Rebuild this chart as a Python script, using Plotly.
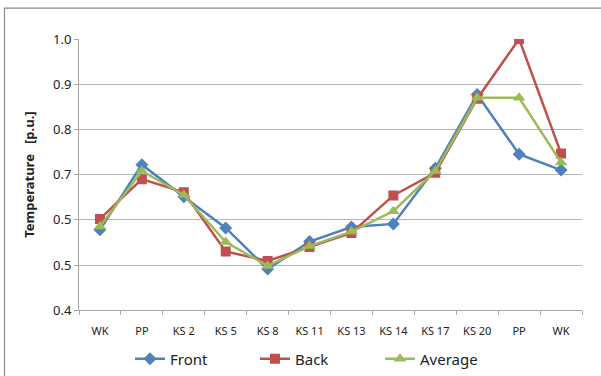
import plotly.graph_objects as go

categories = ["WK", "PP", "KS 2", "KS 5", "KS 8", "KS 11", "KS 13", "KS 14", "KS 17", "KS 20", "PP", "WK"]
front = [0.578, 0.722, 0.651, 0.582, 0.491, 0.552, 0.584, 0.591, 0.714, 0.877, 0.745, 0.710]
back = [0.602, 0.690, 0.661, 0.530, 0.509, 0.540, 0.571, 0.654, 0.704, 0.868, 1.000, 0.747]
average = [0.585, 0.708, 0.655, 0.551, 0.498, 0.542, 0.574, 0.619, 0.708, 0.870, 0.870, 0.727]
y_tickvals = [0.4, 0.5, 0.6, 0.7, 0.8, 0.9, 1.0]
y_ticktext = ["0.4", "0.5", "0.5", "0.7", "0.8", "0.9", "1.0"]

FONT = "Noto Sans"
W, H = 601, 376
ML, MR, MT, MB = 79, 19, 39, 0
PLOT_BOTTOM_PX = 316
area_h = H - MT - MB
area_w = W - ML - MR
dom_bottom = (H - MB - PLOT_BOTTOM_PX) / area_h

xs = list(range(len(categories)))

fig = go.Figure()
series = [
    ("Front", front, "#4F81BD", "diamond", 10),
    ("Back", back, "#C0504D", "square", 10),
    ("Average", average, "#9BBB59", "triangle-up", 11),
]
for name, vals, col, sym, sz in series:
    fig.add_trace(go.Scatter(
        x=xs, y=vals, name=name, mode="lines+markers",
        line=dict(color=col, width=2.5),
        marker=dict(symbol=sym, size=sz, color=col),
    ))

def px_x(p):
    return (p - ML) / area_w

def px_y(p):
    return (H - MB - p) / area_h

fig.update_layout(
    width=W, height=H,
    margin=dict(l=ML, r=MR, t=MT, b=MB),
    paper_bgcolor="white", plot_bgcolor="white",
    font=dict(family=FONT, color="#222"),
    showlegend=True,
    legend=dict(orientation="h", x=px_x(130), xanchor="left", y=px_y(349), yanchor="top",
                font=dict(size=15, family=FONT), entrywidth=80, entrywidthmode="pixels",
                tracegroupgap=0, bgcolor="rgba(0,0,0,0)", borderwidth=0),
    shapes=[dict(type="rect", xref="paper", yref="paper",
                 x0=px_x(4.5), x1=px_x(640), y0=px_y(420), y1=px_y(7.5),
                 line=dict(color="#8a8a8a", width=1.2), fillcolor="rgba(0,0,0,0)", layer="below")],
)
fig.update_xaxes(
    range=[-0.5, len(categories) - 0.5], automargin=False,
    tickmode="array", tickvals=xs, ticktext=categories,
    ticks="", showgrid=False, zeroline=False,
    showline=True, linecolor="#a6a6a6", linewidth=1,
    ticklabelstandoff=11,
    tickfont=dict(size=11, family=FONT, color="#222"),
    minor=dict(tickvals=[i - 0.5 for i in range(len(categories) + 1)],
               ticks="outside", ticklen=4, tickcolor="#a6a6a6", showgrid=False),
)
fig.update_yaxes(
    range=[0.4, 1.0], domain=[dom_bottom, 1.0], automargin=False,
    tickmode="array", tickvals=y_tickvals, ticktext=y_ticktext,
    ticks="outside", ticklen=4, tickcolor="#a6a6a6",
    showgrid=True, gridcolor="#b5b5b5", gridwidth=1, zeroline=False,
    showline=True, linecolor="#a6a6a6", linewidth=1,
    tickfont=dict(size=13, family=FONT, color="#222"),
    title=dict(text="<b>Temperature   [p.u.]</b>", font=dict(size=13, family=FONT, color="#222")),
)

fig.write_html("out.html", config={"displayModeBar": False},
               post_script="document.body.style.margin='0';document.body.style.overflow='hidden';")
